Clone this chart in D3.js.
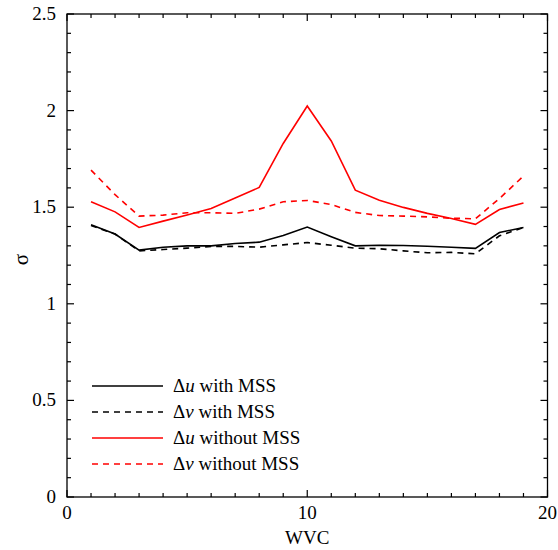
<!DOCTYPE html>
<html><head><meta charset="utf-8">
<script src="https://cdn.jsdelivr.net/npm/d3@7"></script>
<style>body{margin:0;background:#fff}svg{display:block}</style>
</head><body><svg id="c" width="558" height="550" font-family="'Liberation Serif', 'Times New Roman', 'DejaVu Serif', serif"></svg>
<script>
const wvc = [1,2,3,4,5,6,7,8,9,10,11,12,13,14,15,16,17,18,19];
const duWith    = [1.409,1.361,1.278,1.293,1.300,1.300,1.312,1.319,1.354,1.397,1.347,1.300,1.303,1.302,1.298,1.293,1.287,1.369,1.395];
const dvWith    = [1.405,1.361,1.274,1.281,1.288,1.297,1.297,1.293,1.305,1.317,1.303,1.288,1.285,1.274,1.264,1.266,1.259,1.352,1.395];
const duWithout = [1.528,1.476,1.395,1.428,1.460,1.493,1.548,1.602,1.830,2.024,1.843,1.588,1.536,1.499,1.468,1.442,1.411,1.488,1.522];
const dvWithout = [1.692,1.565,1.454,1.459,1.471,1.471,1.468,1.490,1.528,1.535,1.514,1.473,1.457,1.454,1.450,1.443,1.440,1.545,1.661];
const xTicks = [0,10,20];
const yTicks = [0,0.5,1,1.5,2,2.5];
const yTickLabels = ["0","0.5","1","1.5","2","2.5"];
const series = [
  {sym:"u", label:" with MSS", values:duWith, color:"#000", dash:null},
  {sym:"v", label:" with MSS", values:dvWith, color:"#000", dash:"6,5"},
  {sym:"u", label:" without MSS", values:duWithout, color:"#ff0000", dash:null},
  {sym:"v", label:" without MSS", values:dvWithout, color:"#ff0000", dash:"6,5"}
];

const svg = d3.select("#c");
const L=67, R=547.5, T=14, B=497;
const x = d3.scaleLinear().domain([0,20]).range([L,R]);
const y = d3.scaleLinear().domain([0,2.5]).range([B,T]);

svg.append("rect").attr("x",L).attr("y",T).attr("width",R-L).attr("height",B-T)
  .attr("fill","none").attr("stroke","#000").attr("stroke-width",1.3);

const xMinor = d3.range(0,21,1), yMinor = d3.range(0,26,1).map(d=>d/10);
const g = svg.append("g").attr("stroke","#000").attr("stroke-width",1.2);
xMinor.forEach(v=>{
  const len = (v%10===0)?7:4;
  g.append("line").attr("x1",x(v)).attr("x2",x(v)).attr("y1",B).attr("y2",B-len);
  g.append("line").attr("x1",x(v)).attr("x2",x(v)).attr("y1",T).attr("y2",T+len);
});
yMinor.forEach(v=>{
  const len = (Math.round(v*10)%5===0)?7:4;
  g.append("line").attr("y1",y(v)).attr("y2",y(v)).attr("x1",L).attr("x2",L+len);
  g.append("line").attr("y1",y(v)).attr("y2",y(v)).attr("x1",R).attr("x2",R-len);
});

svg.append("g").selectAll("text").data(xTicks).join("text")
  .attr("x",d=>x(d)).attr("y",519).attr("text-anchor","middle")
  .attr("font-size",19).text(d=>d);
svg.append("g").selectAll("text").data(yTicks).join("text")
  .attr("x",56).attr("y",d=>y(d)+6).attr("text-anchor","end")
  .attr("font-size",19).text((d,i)=>yTickLabels[i]);

svg.append("text").attr("x",(L+R)/2).attr("y",544).attr("text-anchor","middle")
  .attr("font-size",19).text("WVC");
svg.append("text").attr("transform",`translate(28,${(T+B)/2+4}) rotate(-90)`)
  .attr("text-anchor","middle").attr("font-size",21).text("σ");

const line = d3.line().x((d,i)=>x(wvc[i])).y(d=>y(d));
series.forEach(s=>{
  svg.append("path").attr("d",line(s.values)).attr("fill","none")
    .attr("stroke",s.color).attr("stroke-width",1.6)
    .attr("stroke-dasharray",s.dash);
});

series.forEach((s,i)=>{
  const ly = 386 + i*26;
  svg.append("line").attr("x1",92).attr("x2",163).attr("y1",ly).attr("y2",ly)
    .attr("stroke",s.color).attr("stroke-width",1.6).attr("stroke-dasharray",s.dash);
  const t = svg.append("text").attr("x",173).attr("y",ly+6).attr("font-size",19);
  t.append("tspan").text("Δ");
  t.append("tspan").attr("font-style","italic").text(s.sym);
  t.append("tspan").text(s.label);
});
</script></body></html>
